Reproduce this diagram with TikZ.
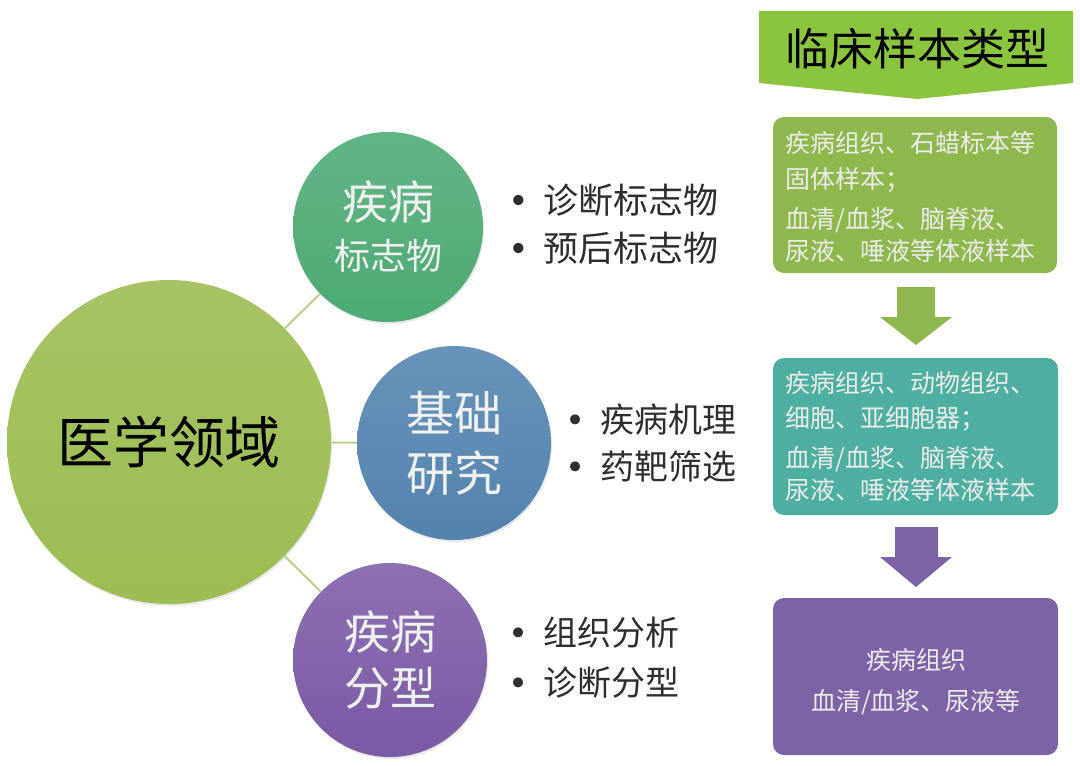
\documentclass[tikz,border=0pt]{standalone}
\usepackage{fontspec}
\setmainfont{Noto Sans CJK SC}
\newfontfamily\dejavu{DejaVu Sans}
\usetikzlibrary{shadows}
\definecolor{bigc}{HTML}{9BBD52}
\definecolor{bigcl}{HTML}{A6C466}
\definecolor{markc}{HTML}{4DAA73}
\definecolor{markcl}{HTML}{62B585}
\definecolor{basicc}{HTML}{5283AD}
\definecolor{basiccl}{HTML}{6893BA}
\definecolor{typec}{HTML}{7A5AA4}
\definecolor{typecl}{HTML}{8C70B2}
\definecolor{linkc}{HTML}{B9D28A}
\definecolor{bannerc}{HTML}{8BC540}
\definecolor{boxg}{HTML}{8EB74D}
\definecolor{boxt}{HTML}{4EAE9F}
\definecolor{boxp}{HTML}{7E62A6}
\definecolor{txtc}{HTML}{2E2E2E}
\begin{document}
\begin{tikzpicture}[x=1pt,y=-1pt,
  ball/.style 2 args={circle, inner sep=0pt, minimum size=194pt, align=center,
    top color=#2, bottom color=#1, draw=none, text=white!94!black,
    drop shadow={opacity=0.18, shadow xshift=1pt, shadow yshift=-2pt}},
  link/.style={draw=linkc, line width=2pt},
  blist/.style={anchor=west, align=left, inner sep=0pt, text=txtc},
  boxtxt/.style={anchor=west, inner sep=0pt, text=white!92!black, font=\fontsize{25}{25}\selectfont},
  samplebox/.style={rounded corners=11pt, draw=none}
]
\useasboundingbox (0,0) rectangle (1080,766);
\fill[white] (0,0) rectangle (1080,766);

% circles
\node[ball={bigc}{bigcl}, minimum size=324pt, text=black,
      font=\fontsize{56}{56}\selectfont] (med) at (169,442) {医学领域};
\node[ball={markc}{markcl}, minimum size=190pt,
      font=\fontsize{46}{50}\selectfont] (mark) at (388,227)
  {疾病\\{\fontsize{36}{50}\selectfont 标志物}};
\node[ball={basicc}{basiccl}, minimum size=194pt,
      font=\fontsize{48}{60}\selectfont] (basic) at (454,443) {基础\\研究};
\node[ball={typec}{typecl}, minimum size=194pt,
      font=\fontsize{46}{56}\selectfont] (type) at (390,660) {疾病\\分型};

% connectors
\begin{scope}
\draw[link] (med) -- (mark);
\draw[link] (med) -- (basic);
\draw[link] (med) -- (type);
\end{scope}

% bullet lists
\node[blist, font=\fontsize{35}{48}\selectfont] (l1) at (508,224)
  {{\dejavu •}\hspace{15pt}诊断标志物\\{\dejavu •}\hspace{15pt}预后标志物};
\node[blist, font=\fontsize{34}{47}\selectfont] (l2) at (565,443)
  {{\dejavu •}\hspace{15pt}疾病机理\\{\dejavu •}\hspace{15pt}药靶筛选};
\node[blist, font=\fontsize{34}{50}\selectfont] (l3) at (508,658)
  {{\dejavu •}\hspace{15pt}组织分析\\{\dejavu •}\hspace{15pt}诊断分型};

% banner
\fill[bannerc] (759,11) -- (1073,11) -- (1073,83) -- (917,99) -- (759,83) -- cycle;
\node[inner sep=0pt, font=\fontsize{44}{44}\selectfont, text=black] (banner) at (917,49) {临床样本类型};

% sample boxes
\fill[boxg, samplebox] (773,117) rectangle (1057,273);
\node[boxtxt] (g1) at (785,143) {疾病组织、石蜡标本等};
\node[boxtxt] (g2) at (785,180) {固体样本；};
\node[boxtxt] (g3) at (785,220) {血清/血浆、脑脊液、};
\node[boxtxt] (g4) at (785,251) {尿液、唾液等体液样本};

\fill[boxt, samplebox] (773,358) rectangle (1058,515);
\node[boxtxt] (t1) at (785,383) {疾病组织、动物组织、};
\node[boxtxt] (t2) at (785,419) {细胞、亚细胞器；};
\node[boxtxt] (t3) at (785,459) {血清/血浆、脑脊液、};
\node[boxtxt] (t4) at (785,490) {尿液、唾液等体液样本};

\fill[boxp, samplebox] (773,598) rectangle (1058,755);
\node[boxtxt, anchor=center] (p1) at (916,660) {疾病组织};
\node[boxtxt, anchor=center] (p2) at (916,702) {血清/血浆、尿液等};

% block arrows
\fill[boxg] (897,287) -- (935,287) -- (935,317) -- (952,317) -- (916,345)
  -- (880,317) -- (897,317) -- cycle;
\fill[boxp] (895,527) -- (938,527) -- (938,557) -- (952,557) -- (916,587)
  -- (880,557) -- (895,557) -- cycle;
\end{tikzpicture}
\end{document}
